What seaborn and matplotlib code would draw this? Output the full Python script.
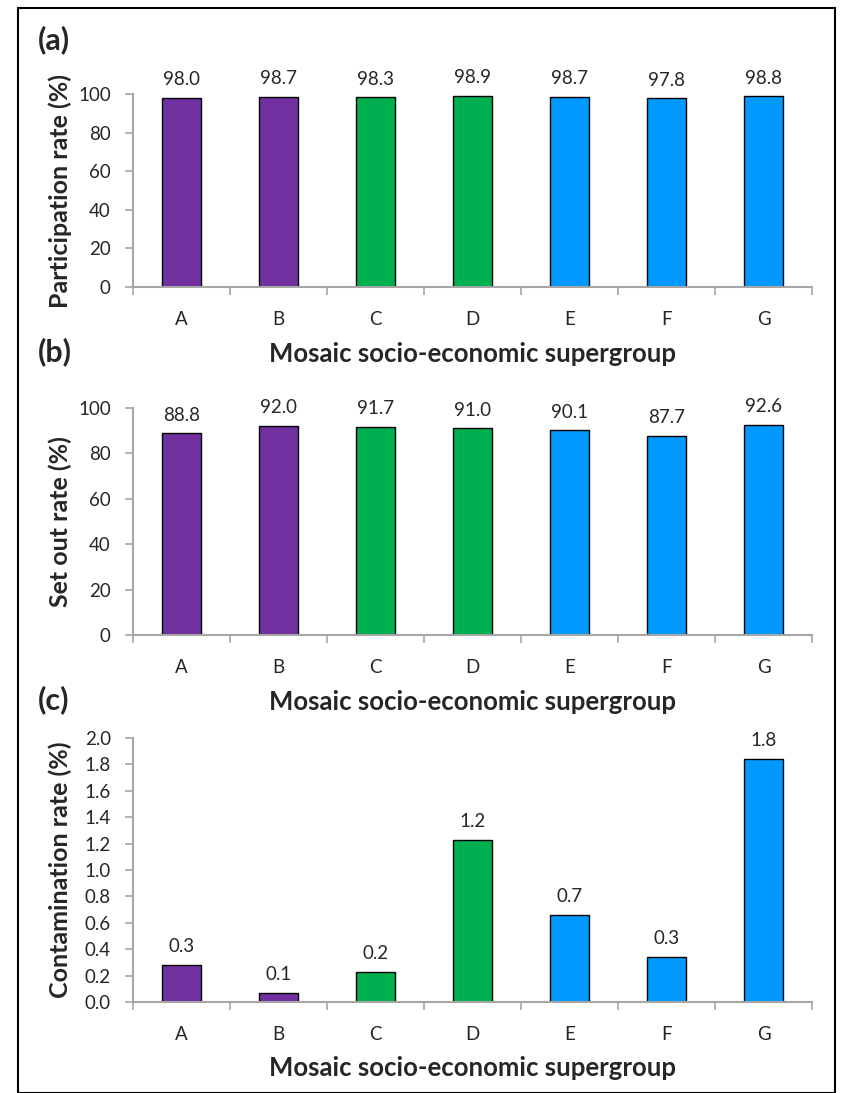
import matplotlib
matplotlib.use("Agg")
import matplotlib.pyplot as plt
import seaborn as sns
import pandas as pd
import numpy as np
from matplotlib.patches import Rectangle
from matplotlib.ticker import FixedLocator, NullFormatter

categories = ["A", "B", "C", "D", "E", "F", "G"]
participation = [98.0, 98.7, 98.3, 98.9, 98.7, 97.8, 98.8]
set_out = [88.8, 92.0, 91.7, 91.0, 90.1, 87.7, 92.6]
contamination = [0.28, 0.07, 0.23, 1.23, 0.66, 0.34, 1.84]
group_colors = ["#7030A0", "#7030A0", "#00B050", "#00B050", "#0099FF", "#0099FF", "#0099FF"]

sns.set_theme(style="white")
plt.rcParams['font.family'] = ['Lato', 'DejaVu Sans']

fig = plt.figure(figsize=(8.43, 10.93), dpi=100)
W, H = 843, 1093

def px_axes(x0, x1, ytop, ybot):
    return fig.add_axes([x0 / W, 1 - ybot / H, (x1 - x0) / W, (ybot - ytop) / H])

panels = [
    dict(vals=participation, ytop=94, ybot=287, ymax=100, step=20, fmt="{:.0f}",
         ylabel="Participation rate (%)", tag="(a)", tagy=40),
    dict(vals=set_out, ytop=408, ybot=635, ymax=100, step=20, fmt="{:.0f}",
         ylabel="Set out rate (%)", tag="(b)", tagy=352),
    dict(vals=contamination, ytop=738, ybot=1002, ymax=2.0, step=0.2, fmt="{:.1f}",
         ylabel="Contamination rate (%)", tag="(c)", tagy=700),
]

grey = "#A6A6A6"
fs = 13.5
for p in panels:
    ax = px_axes(133, 812, p["ytop"], p["ybot"])
    df = pd.DataFrame({"cat": categories, "val": p["vals"]})
    sns.barplot(data=df, x="cat", y="val", hue="cat", palette=dict(zip(categories, group_colors)),
                width=0.4, edgecolor="black", linewidth=1.0, legend=False, ax=ax, saturation=1)
    ax.set_ylim(0, p["ymax"])
    ax.set_xlim(-0.5, 6.5)
    yt = np.round(np.arange(0, p["ymax"] + p["step"] / 2, p["step"]), 2)
    ax.set_yticks(yt)
    ax.set_yticklabels([p["fmt"].format(v) for v in yt], fontsize=fs)
    ax.xaxis.set_major_locator(FixedLocator(np.arange(-0.5, 7, 1)))
    ax.xaxis.set_major_formatter(NullFormatter())
    ax.xaxis.set_minor_locator(FixedLocator(np.arange(0, 7)))
    ax.set_xticklabels(categories, minor=True, fontsize=fs)
    ax.tick_params(axis="x", which="major", direction="out", length=6, color=grey, width=1.2, bottom=True)
    ax.tick_params(axis="x", which="minor", length=0, pad=17, bottom=True)
    ax.tick_params(axis="y", direction="out", length=6, color=grey, width=1.2, left=True, pad=10)
    for s in ["top", "right"]:
        ax.spines[s].set_visible(False)
    for s in ["left", "bottom"]:
        ax.spines[s].set_color(grey)
        ax.spines[s].set_linewidth(1.5)
    ax.set_xlabel("Mosaic socio-economic supergroup", fontsize=18.5, fontweight="bold", labelpad=10)
    ax.set_ylabel(p["ylabel"], fontsize=18, fontweight="bold")
    ax.yaxis.set_label_coords(-0.09, 0.5)
    bars = sorted([b for b in ax.patches if b.get_height() > 0], key=lambda b: b.get_x())
    for b, v in zip(bars, p["vals"]):
        ax.annotate(f"{v:.1f}", (b.get_x() + b.get_width() / 2, b.get_height()),
                    xytext=(0, 7), textcoords="offset points", ha="center", va="bottom", fontsize=fs)
    fig.text(38 / W, 1 - p["tagy"] / H, p["tag"], fontsize=22, fontweight="bold", va="center", ha="left")

fig.patches.append(Rectangle((18 / W, 0), (835 - 18) / W, 1 - 8 / H, transform=fig.transFigure,
                             fill=False, edgecolor="black", linewidth=1.5))

fig.savefig("out.png", dpi=100)
